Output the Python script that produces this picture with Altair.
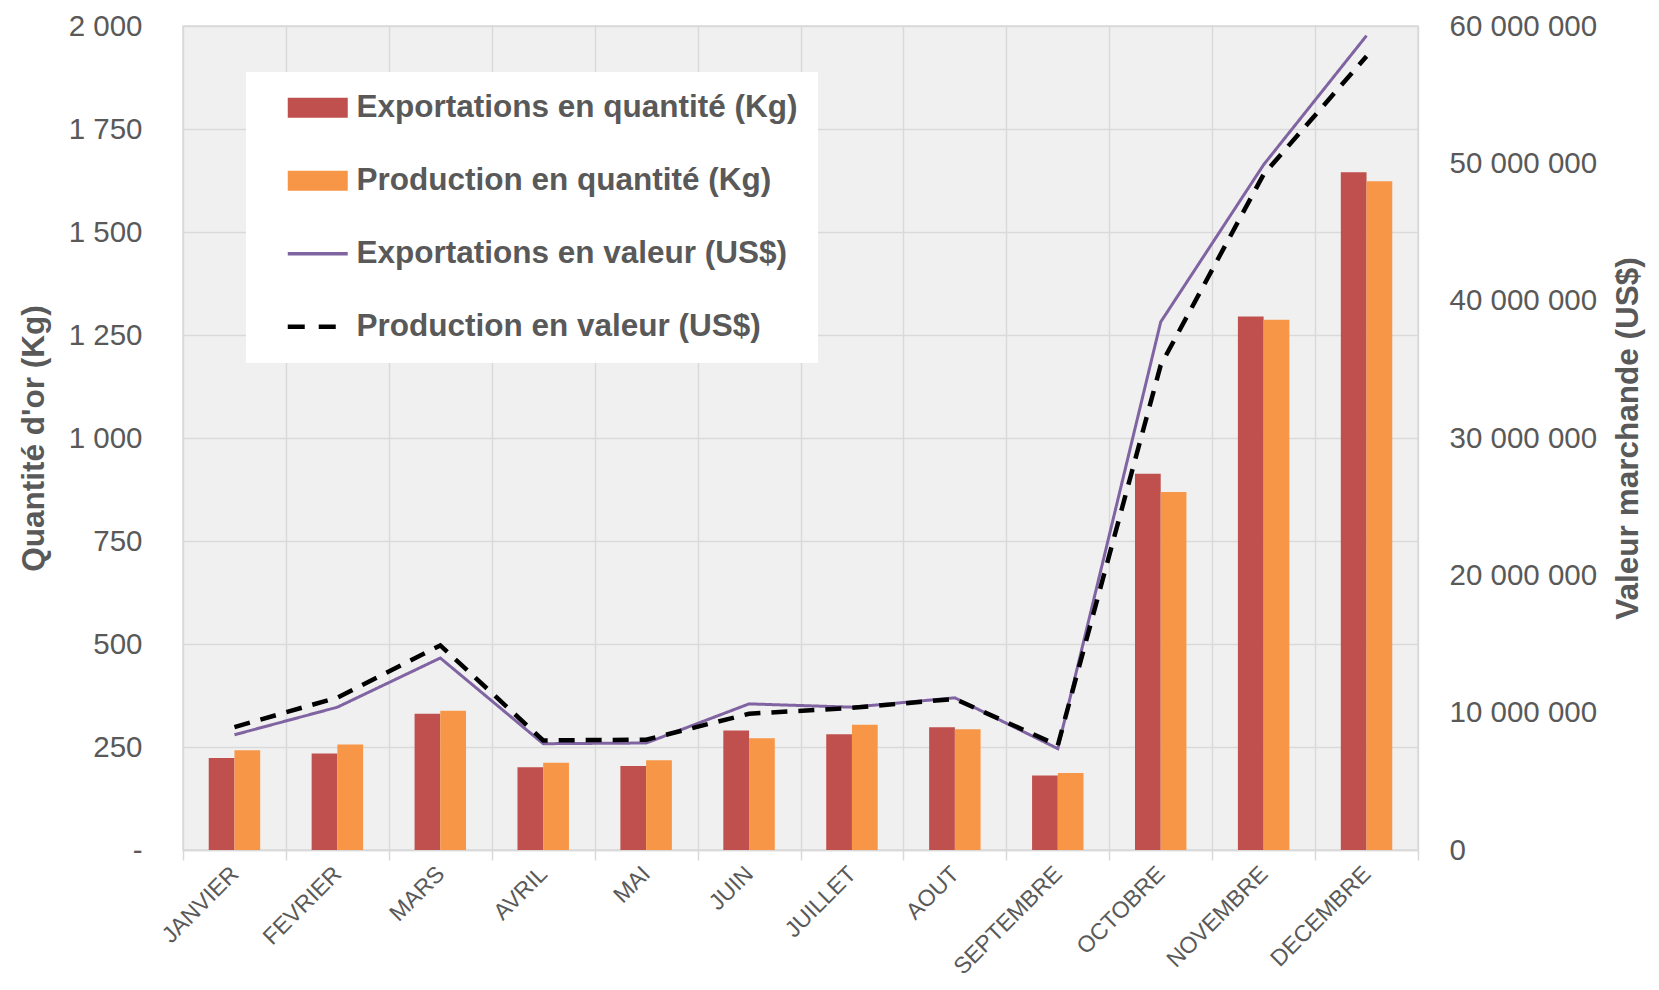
import altair as alt
import pandas as pd

months = ["JANVIER", "FEVRIER", "MARS", "AVRIL", "MAI", "JUIN", "JUILLET",
          "AOUT", "SEPTEMBRE", "OCTOBRE", "NOVEMBRE", "DECEMBRE"]
exp_kg = [223, 234, 331, 201, 204, 290, 281, 298, 181, 913, 1295, 1645]
prod_kg = [242, 256, 338, 212, 218, 271, 304, 293, 187, 869, 1287, 1623]
exp_usd_m = [8.39, 10.4, 13.98, 7.74, 7.79, 10.64, 10.4, 11.08, 7.38, 38.45, 49.9, 59.3]
prod_usd_m = [8.95, 11.1, 14.9, 7.98, 8.03, 9.92, 10.35, 11.0, 7.62, 35.3, 49.2, 57.8]

E_KG = "Exportations en quantité (Kg)"
P_KG = "Production en quantité (Kg)"
E_USD = "Exportations en valeur (US$)"
P_USD = "Production en valeur (US$)"

bar_rows = []
line_rows = []
for i, m in enumerate(months):
    bar_rows.append({"mois": m, "serie": E_KG, "kg": exp_kg[i]})
    bar_rows.append({"mois": m, "serie": P_KG, "kg": prod_kg[i]})
    line_rows.append({"mois": m, "serie": E_USD, "usd": exp_usd_m[i] * 1e6})
    line_rows.append({"mois": m, "serie": P_USD, "usd": prod_usd_m[i] * 1e6})
bars_df = pd.DataFrame(bar_rows)
lines_df = pd.DataFrame(line_rows)

FONT = "Liberation Sans, Arial, sans-serif"
GRAY = "#595959"
GRID = "#d9d9d9"

color_scale = alt.Scale(domain=[E_KG, P_KG, E_USD, P_USD],
                        range=["#C0504D", "#F79646", "#8064A2", "#000000"])

is_line = f"(datum.value == '{E_USD}' || datum.value == '{P_USD}')"
legend = alt.Legend(
    title=None, orient="none", legendX=63, legendY=46, direction="vertical",
    fillColor="white", padding=20, symbolOffset=36, symbolSize=3600,
    labelFont=FONT, labelFontSize=31.5, labelFontWeight="bold", labelColor=GRAY,
    labelOffset=23, labelLimit=700, rowPadding=40,
    symbolType=alt.ExprRef(expr=f"{is_line} ? 'stroke' : 'M-1,-0.33L1,-0.33L1,0.33L-1,0.33Z'"),
    symbolDash=alt.ExprRef(expr=f"datum.value == '{P_USD}' ? [17, 14] : [1, 0]"),
    symbolStrokeWidth=alt.ExprRef(expr=f"datum.value == '{P_USD}' ? 4.5 : ({is_line} ? 3.5 : 0)"),
)

x_axis = alt.Axis(
    title=None, labelAngle=315, labelAlign="right", labelBaseline="middle",
    labelPadding=10, labelOffset=0, labelFont=FONT, labelFontSize=23, labelColor=GRAY,
    labelLimit=400, labelOverlap=False,
    tickBand="extent", ticks=True, tickSize=10, tickColor=GRID, tickWidth=1.5,
    grid=True, gridColor=GRID, gridWidth=1.5, domainColor=GRID, domainWidth=1.5,
)
x_enc = alt.X("mois:N", sort=months, scale=alt.Scale(paddingInner=0, paddingOuter=0), axis=x_axis)

y_left = alt.Axis(
    title="Quantité d'or (Kg)", values=list(range(0, 2001, 250)),
    labelExpr="datum.value == 0 ? '-' : replace(format(datum.value, ','), ',', ' ')",
    grid=True, gridColor=GRID, gridWidth=1.5, ticks=False, domain=False,
    labelPadding=41, labelFont=FONT, labelFontSize=29.5, labelColor=GRAY, labelLimit=300,
    titleFont=FONT, titleFontSize=31.5, titleFontWeight="bold", titleColor=GRAY, titlePadding=18,
)
y_right = alt.Axis(
    title="Valeur marchande (US$)", orient="right",
    values=[0, 10e6, 20e6, 30e6, 40e6, 50e6, 60e6],
    labelExpr="replace(replace(format(datum.value, ','), ',', ' '), ',', ' ')",
    grid=False, ticks=False, domain=False,
    labelPadding=31, labelFont=FONT, labelFontSize=29.5, labelColor=GRAY, labelLimit=300,
    titleFont=FONT, titleFontSize=31.5, titleFontWeight="bold", titleColor=GRAY,
    titlePadding=16, titleAngle=270, titleBaseline="top",
)

bars = alt.Chart(bars_df).mark_bar().encode(
    x=x_enc,
    xOffset=alt.XOffset("serie:N", scale=alt.Scale(domain=[E_KG, P_KG], paddingInner=0,
                                                   paddingOuter=alt.ExprRef(expr="1.237"))),
    y=alt.Y("kg:Q", scale=alt.Scale(domain=[0, 2000], nice=False), axis=y_left),
    color=alt.Color("serie:N", scale=color_scale, legend=legend),
)

lines = alt.Chart(lines_df).mark_line().encode(
    x=x_enc,
    y=alt.Y("usd:Q", scale=alt.Scale(domain=[0, 60e6], nice=False), axis=y_right),
    color=alt.Color("serie:N", scale=color_scale, legend=legend),
    strokeDash=alt.StrokeDash("serie:N", scale=alt.Scale(domain=[E_USD, P_USD], range=[[1, 0], [16, 11]]), legend=None),
    strokeWidth=alt.StrokeWidth("serie:N", scale=alt.Scale(domain=[E_USD, P_USD], range=[3, 4.5]), legend=None),
)

chart = alt.layer(bars, lines).resolve_scale(y="independent").properties(
    width=1235, height=824,
    padding={"left": 175, "top": 18, "right": 232, "bottom": 132},
    autosize=alt.AutoSizeParams(type="none"),
).configure_view(fill="#f0f0f0", stroke=GRID, strokeWidth=1.5)

chart.save("out.html", embed_options={"renderer": "svg", "actions": False})
